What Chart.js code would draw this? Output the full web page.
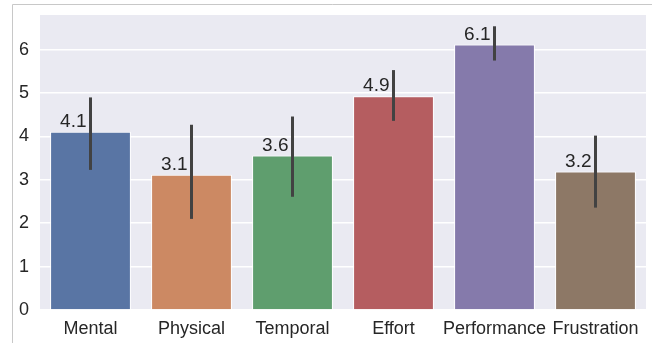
<!DOCTYPE html>
<html>
<head>
<meta charset="utf-8">
<script src="https://cdn.jsdelivr.net/npm/chart.js@4"></script>
<style>
  html, body { margin: 0; padding: 0; background: #ffffff; }
  canvas { display: block; }
</style>
</head>
<body>
<canvas id="chart" width="652" height="343"></canvas>
<script>
// Workload subscale scores: mean with confidence interval
const categories = ['Mental', 'Physical', 'Temporal', 'Effort', 'Performance', 'Frustration'];
const means = [4.11, 3.12, 3.56, 4.93, 6.12, 3.19];
const ciLow = [3.23, 2.10, 2.61, 4.36, 5.75, 2.36];
const ciHigh = [4.90, 4.27, 4.46, 5.53, 6.54, 4.02];
const yTicks = [0, 1, 2, 3, 4, 5, 6];

const barColors = ['#5975a4', '#cc8963', '#5f9e6e', '#b55d60', '#857aab', '#8d7866'];
const textColor = '#262626';
const fontFamily = '"Liberation Sans", Arial, sans-serif';

// Panel background, figure frame
const backdrop = {
  id: 'backdrop',
  beforeDraw(chart) {
    const { ctx, chartArea: a } = chart;
    ctx.save();
    ctx.fillStyle = '#eaeaf2';
    ctx.fillRect(a.left, a.top, a.right - a.left, a.bottom - a.top);
    ctx.strokeStyle = '#c8c8c8';
    ctx.lineWidth = 1;
    ctx.beginPath();
    ctx.moveTo(12.5, 343);
    ctx.lineTo(12.5, 4.5);
    ctx.lineTo(652, 4.5);
    ctx.stroke();
    ctx.restore();
  }
};

// Confidence interval lines and value labels
const errorBars = {
  id: 'errorBars',
  afterDatasetsDraw(chart) {
    const { ctx, scales } = chart;
    const meta = chart.getDatasetMeta(0);
    ctx.save();
    meta.data.forEach((bar, i) => {
      const x = bar.x;
      const y1 = scales.y.getPixelForValue(ciLow[i]);
      const y2 = scales.y.getPixelForValue(ciHigh[i]);
      ctx.strokeStyle = '#424242';
      ctx.lineWidth = 3;
      ctx.lineCap = 'butt';
      ctx.beginPath();
      ctx.moveTo(x, y1);
      ctx.lineTo(x, y2);
      ctx.stroke();

      const top = scales.y.getPixelForValue(means[i]);
      ctx.fillStyle = textColor;
      ctx.font = '19px ' + fontFamily;
      ctx.textAlign = 'right';
      ctx.textBaseline = 'alphabetic';
      ctx.fillText(means[i].toFixed(1), x - 4, top - 5);
    });
    ctx.restore();
  }
};

new Chart(document.getElementById('chart'), {
  type: 'bar',
  data: {
    labels: categories,
    datasets: [{
      data: means,
      backgroundColor: barColors,
      borderColor: '#ffffff',
      borderWidth: 1,
      barPercentage: 0.8,
      categoryPercentage: 1.0
    }]
  },
  options: {
    responsive: false,
    animation: false,
    layout: { padding: { top: 15, right: 6, left: 0, bottom: 0 } },
    plugins: {
      legend: { display: false },
      tooltip: { enabled: false }
    },
    scales: {
      x: {
        grid: { display: false, drawTicks: false },
        border: { display: false },
        ticks: {
          color: textColor,
          font: { family: fontFamily, size: 18 },
          autoSkip: false,
          maxRotation: 0,
          minRotation: 0,
          padding: 8
        },
        afterFit(scale) {
          scale.height = 33;
          scale.paddingLeft = 0;
          scale.paddingRight = 0;
        }
      },
      y: {
        min: 0,
        max: 6.8,
        grid: { color: '#ffffff', lineWidth: 1.5, drawTicks: false, tickLength: 0 },
        border: { display: false },
        ticks: {
          color: textColor,
          font: { family: fontFamily, size: 18 },
          padding: 11,
          stepSize: 1
        },
        afterBuildTicks(scale) {
          scale.ticks = yTicks.map(v => ({ value: v }));
        },
        afterFit(scale) {
          scale.width = 40;
          scale.paddingTop = 0;
          scale.paddingBottom = 0;
        }
      }
    }
  },
  plugins: [backdrop, errorBars]
});
</script>
</body>
</html>
